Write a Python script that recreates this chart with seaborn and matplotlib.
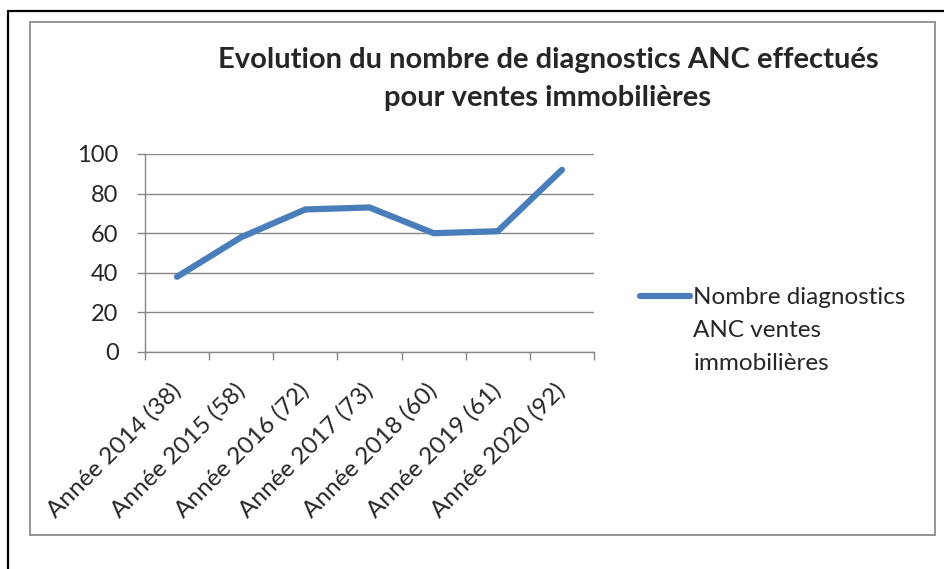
import matplotlib
matplotlib.use("Agg")
import matplotlib.pyplot as plt
import numpy as np
import pandas as pd
import seaborn as sns
from matplotlib.lines import Line2D
from matplotlib.patches import Rectangle

# data
annees = ["Année 2014 (38)", "Année 2015 (58)", "Année 2016 (72)", "Année 2017 (73)",
          "Année 2018 (60)", "Année 2019 (61)", "Année 2020 (92)"]
diagnostics = [38, 58, 72, 73, 60, 61, 92]
y_ticks = [0, 20, 40, 60, 80, 100]
serie = "Nombre diagnostics\nANC ventes\nimmobilières"
titre = "Evolution du nombre de diagnostics ANC effectués\npour ventes immobilières"

W, H = 944, 569
blue = "#4A7EBB"
grey = "#868686"

sns.set_theme(style="white")
plt.rcParams["font.family"] = ["Lato", "DejaVu Sans"]

fig = plt.figure(figsize=(W / 100, H / 100), dpi=100)

# outer black frame and grey chart border
fig.add_artist(Line2D([8 / W, 8 / W], [0, 1 - 11 / H], transform=fig.transFigure, color="black", lw=1.6))
fig.add_artist(Line2D([8 / W, 1], [1 - 11 / H, 1 - 11 / H], transform=fig.transFigure, color="black", lw=1.6))
fig.add_artist(Rectangle((30 / W, 1 - 535 / H), (935 - 30) / W, (535 - 22) / H, transform=fig.transFigure,
                         fill=False, edgecolor="#8c8c8c", lw=1.3))

ax = fig.add_axes([145 / W, 1 - 352 / H, (594 - 145) / W, (352 - 154) / H])
ax.set_facecolor("none")

df = pd.DataFrame({"annee": annees, "diagnostics": diagnostics})
sns.lineplot(data=df, x="annee", y="diagnostics", ax=ax, color=blue, linewidth=4.5,
             solid_capstyle="round", solid_joinstyle="round", label=serie, zorder=3)

ax.set_xlim(-0.5, len(annees) - 0.5)
ax.set_ylim(0, 100)
ax.set_yticks(y_ticks)
ax.yaxis.grid(True, color=grey, linewidth=1)
ax.xaxis.grid(False)
ax.set_xlabel("")
ax.set_ylabel("")

for s in ["top", "right"]:
    ax.spines[s].set_visible(False)
for s in ["left", "bottom"]:
    ax.spines[s].set_color(grey)
    ax.spines[s].set_linewidth(1)

# category boundaries carry the tick marks, labels sit on the centres
ax.set_xticks(np.arange(len(annees) + 1) - 0.5)
ax.set_xticklabels([])
ax.set_xticks(np.arange(len(annees)), minor=True)
ax.set_xticklabels(annees, minor=True, rotation=45, ha="right", va="center", rotation_mode="anchor",
                   fontsize=17.5)
ax.tick_params(axis="x", which="major", direction="out", length=6, width=1, color=grey, bottom=True)
ax.tick_params(axis="x", which="minor", length=0, pad=25)
ax.tick_params(axis="y", direction="out", length=6, width=1, color=grey, left=True, pad=13, labelsize=17)

fig.text(548 / W, 1 - 79 / H, titre, ha="center", va="center", fontsize=21, fontweight="bold",
         linespacing=1.55)

fs = 17.5
leg = ax.legend(loc="upper left", bbox_to_anchor=(640 / W, 1 - 287 / H), bbox_transform=fig.transFigure,
                frameon=False, fontsize=fs, borderpad=0, borderaxespad=0,
                handlelength=36 / fs, handletextpad=2.5 / fs)
leg_text = leg.get_texts()[0]
leg_text.set_linespacing(1.72)

# put the legend line beside the first line of the label
fig.canvas.draw()
tb = leg_text.get_window_extent()
hl = leg.legend_handles[0]
yd = np.asarray(hl.get_ydata(), dtype=float)
xd = np.asarray(hl.get_xdata(), dtype=float)
cur = hl.get_transform().transform(np.column_stack([xd, yd]))[0, 1]
target = tb.y1 - 0.36 * fs * 100 / 72
hl.set_ydata(yd + (target - cur) * 72 / 100)
hl.set_solid_capstyle("round")

fig.savefig("out.png", dpi=100)
